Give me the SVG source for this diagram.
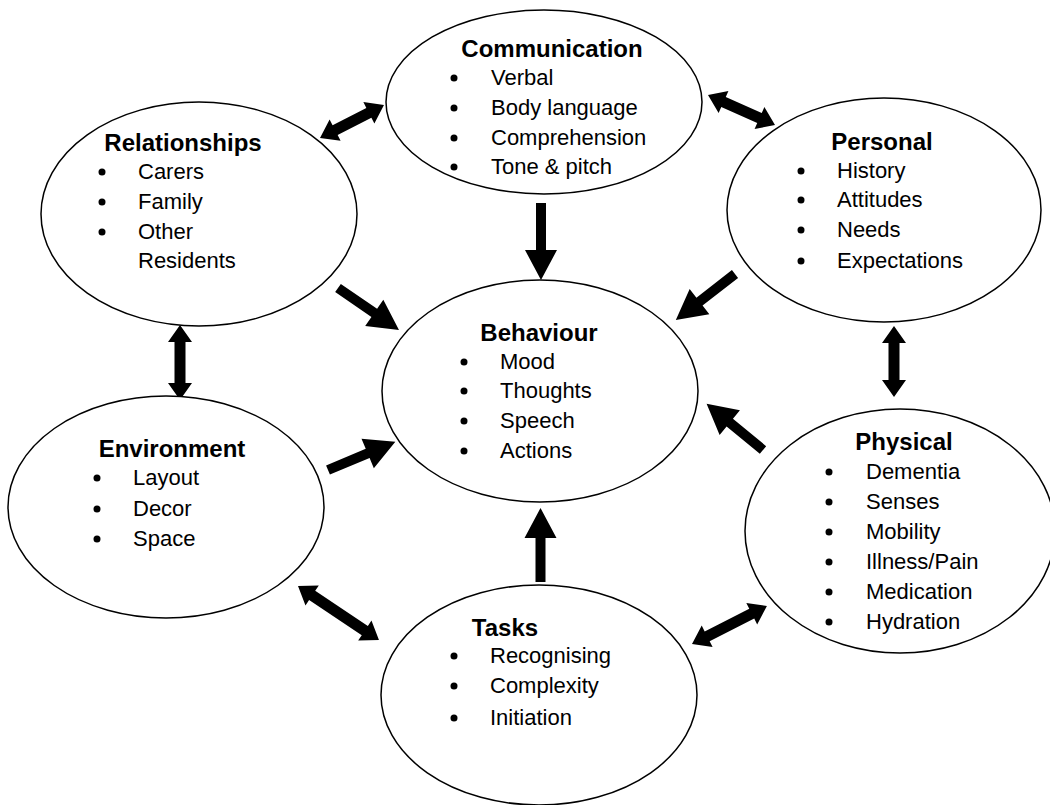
<svg xmlns="http://www.w3.org/2000/svg" width="1050" height="805" viewBox="0 0 1050 805">
  <style>
    .node ellipse { fill: #ffffff; stroke: #000000; stroke-width: 1.5; }
    .title { font-family: "Liberation Sans", Arial, sans-serif; font-size: 24px; font-weight: bold; fill: #000000; text-anchor: middle; }
    .item { font-family: "Liberation Sans", Arial, sans-serif; font-size: 22px; fill: #000000; }
    .dot { fill: #000000; }
    .arrow { fill: #000000; stroke: none; }
  </style>
  <rect width="1050" height="805" fill="#ffffff"/>

  <!-- connectors: each arrow is drawn along +x from its tail, then placed with translate/rotate -->
  <g id="connectors">
    <!-- one-way arrows into Behaviour: shaft 10 wide, head 32 wide, 30 long -->
    <path class="arrow" transform="translate(541,203) rotate(90)" d="M0,-5 L47,-5 L47,-16 L77,0 L47,16 L47,5 L0,5 Z"/>
    <path class="arrow" transform="translate(338,288) rotate(34.5)" d="M0,-5 L44,-5 L44,-16 L74,0 L44,16 L44,5 L0,5 Z"/>
    <path class="arrow" transform="translate(735,274) rotate(142.1)" d="M0,-5 L45,-5 L45,-16 L75,0 L45,16 L45,5 L0,5 Z"/>
    <path class="arrow" transform="translate(328,470) rotate(-22.7)" d="M0,-5 L43,-5 L43,-16 L73,0 L43,16 L43,5 L0,5 Z"/>
    <path class="arrow" transform="translate(763,450) rotate(219.4)" d="M0,-5 L43,-5 L43,-16 L73,0 L43,16 L43,5 L0,5 Z"/>
    <path class="arrow" transform="translate(540.5,582) rotate(-90)" d="M0,-5 L44,-5 L44,-16 L74,0 L44,16 L44,5 L0,5 Z"/>

    <!-- two-way arrows between outer nodes -->
    <path class="arrow" transform="translate(320,138) rotate(-27.3)" d="M0,0 L17,-12 L17,-5.5 L55,-5.5 L55,-12 L72,0 L55,12 L55,5.5 L17,5.5 L17,12 Z"/>
    <path class="arrow" transform="translate(708,95) rotate(24.1)" d="M0,0 L17,-12 L17,-5.5 L56.4,-5.5 L56.4,-12 L73.4,0 L56.4,12 L56.4,5.5 L17,5.5 L17,12 Z"/>
    <path class="arrow" transform="translate(180,325) rotate(90)" d="M0,0 L17,-12 L17,-5.5 L58,-5.5 L58,-12 L75,0 L58,12 L58,5.5 L17,5.5 L17,12 Z"/>
    <path class="arrow" transform="translate(894,326) rotate(90)" d="M0,0 L17,-12 L17,-5.5 L54,-5.5 L54,-12 L71,0 L54,12 L54,5.5 L17,5.5 L17,12 Z"/>
    <path class="arrow" transform="translate(298,586) rotate(33.7)" d="M0,0 L17,-12 L17,-5.5 L80.3,-5.5 L80.3,-12 L97.3,0 L80.3,12 L80.3,5.5 L17,5.5 L17,12 Z"/>
    <path class="arrow" transform="translate(692,644) rotate(-26.9)" d="M0,0 L17,-12 L17,-5.5 L67,-5.5 L67,-12 L84,0 L67,12 L67,5.5 L17,5.5 L17,12 Z"/>
  </g>

  <!-- Communication -->
  <g id="communication" class="node">
    <ellipse cx="544" cy="102" rx="158" ry="92"/>
    <text class="title" x="552" y="57">Communication</text>
    <circle class="dot" cx="454" cy="78" r="3.5"/>
    <circle class="dot" cx="454" cy="108" r="3.5"/>
    <circle class="dot" cx="454" cy="138" r="3.5"/>
    <circle class="dot" cx="454" cy="167" r="3.5"/>
    <text class="item" x="491" y="85">Verbal</text>
    <text class="item" x="491" y="115">Body language</text>
    <text class="item" x="491" y="145">Comprehension</text>
    <text class="item" x="491" y="174">Tone &amp; pitch</text>
  </g>

  <!-- Relationships -->
  <g id="relationships" class="node">
    <ellipse cx="199" cy="214" rx="158" ry="112"/>
    <text class="title" x="183" y="151">Relationships</text>
    <circle class="dot" cx="102" cy="172" r="3.5"/>
    <circle class="dot" cx="102" cy="202" r="3.5"/>
    <circle class="dot" cx="102" cy="232" r="3.5"/>
    <text class="item" x="138" y="179">Carers</text>
    <text class="item" x="138" y="209">Family</text>
    <text class="item" x="138" y="239">Other</text>
    <text class="item" x="138" y="268">Residents</text>
  </g>

  <!-- Personal -->
  <g id="personal" class="node">
    <ellipse cx="884" cy="210" rx="157" ry="112"/>
    <text class="title" x="882" y="150">Personal</text>
    <circle class="dot" cx="801" cy="171" r="3.5"/>
    <circle class="dot" cx="801" cy="200" r="3.5"/>
    <circle class="dot" cx="801" cy="230" r="3.5"/>
    <circle class="dot" cx="801" cy="261" r="3.5"/>
    <text class="item" x="837" y="178">History</text>
    <text class="item" x="837" y="207">Attitudes</text>
    <text class="item" x="837" y="237">Needs</text>
    <text class="item" x="837" y="268">Expectations</text>
  </g>

  <!-- Behaviour -->
  <g id="behaviour" class="node">
    <ellipse cx="540" cy="391" rx="158" ry="111"/>
    <text class="title" x="539" y="341">Behaviour</text>
    <circle class="dot" cx="464" cy="362" r="3.5"/>
    <circle class="dot" cx="464" cy="391" r="3.5"/>
    <circle class="dot" cx="464" cy="421" r="3.5"/>
    <circle class="dot" cx="464" cy="451" r="3.5"/>
    <text class="item" x="500" y="369">Mood</text>
    <text class="item" x="500" y="398">Thoughts</text>
    <text class="item" x="500" y="428">Speech</text>
    <text class="item" x="500" y="458">Actions</text>
  </g>

  <!-- Environment -->
  <g id="environment" class="node">
    <ellipse cx="166" cy="507" rx="158" ry="111"/>
    <text class="title" x="172" y="457">Environment</text>
    <circle class="dot" cx="97" cy="478" r="3.5"/>
    <circle class="dot" cx="97" cy="509" r="3.5"/>
    <circle class="dot" cx="97" cy="539" r="3.5"/>
    <text class="item" x="133" y="485">Layout</text>
    <text class="item" x="133" y="516">Decor</text>
    <text class="item" x="133" y="546">Space</text>
  </g>

  <!-- Physical -->
  <g id="physical" class="node">
    <ellipse cx="900" cy="531" rx="155" ry="122"/>
    <text class="title" x="904" y="450">Physical</text>
    <circle class="dot" cx="829" cy="472" r="3.5"/>
    <circle class="dot" cx="829" cy="502" r="3.5"/>
    <circle class="dot" cx="829" cy="532" r="3.5"/>
    <circle class="dot" cx="829" cy="562" r="3.5"/>
    <circle class="dot" cx="829" cy="592" r="3.5"/>
    <circle class="dot" cx="829" cy="622" r="3.5"/>
    <text class="item" x="866" y="479">Dementia</text>
    <text class="item" x="866" y="509">Senses</text>
    <text class="item" x="866" y="539">Mobility</text>
    <text class="item" x="866" y="569">Illness/Pain</text>
    <text class="item" x="866" y="599">Medication</text>
    <text class="item" x="866" y="629">Hydration</text>
  </g>

  <!-- Tasks -->
  <g id="tasks" class="node">
    <ellipse cx="539" cy="695" rx="158" ry="110"/>
    <text class="title" x="505" y="636">Tasks</text>
    <circle class="dot" cx="454" cy="656" r="3.5"/>
    <circle class="dot" cx="454" cy="686" r="3.5"/>
    <circle class="dot" cx="454" cy="718" r="3.5"/>
    <text class="item" x="490" y="663">Recognising</text>
    <text class="item" x="490" y="693">Complexity</text>
    <text class="item" x="490" y="725">Initiation</text>
  </g>
</svg>
